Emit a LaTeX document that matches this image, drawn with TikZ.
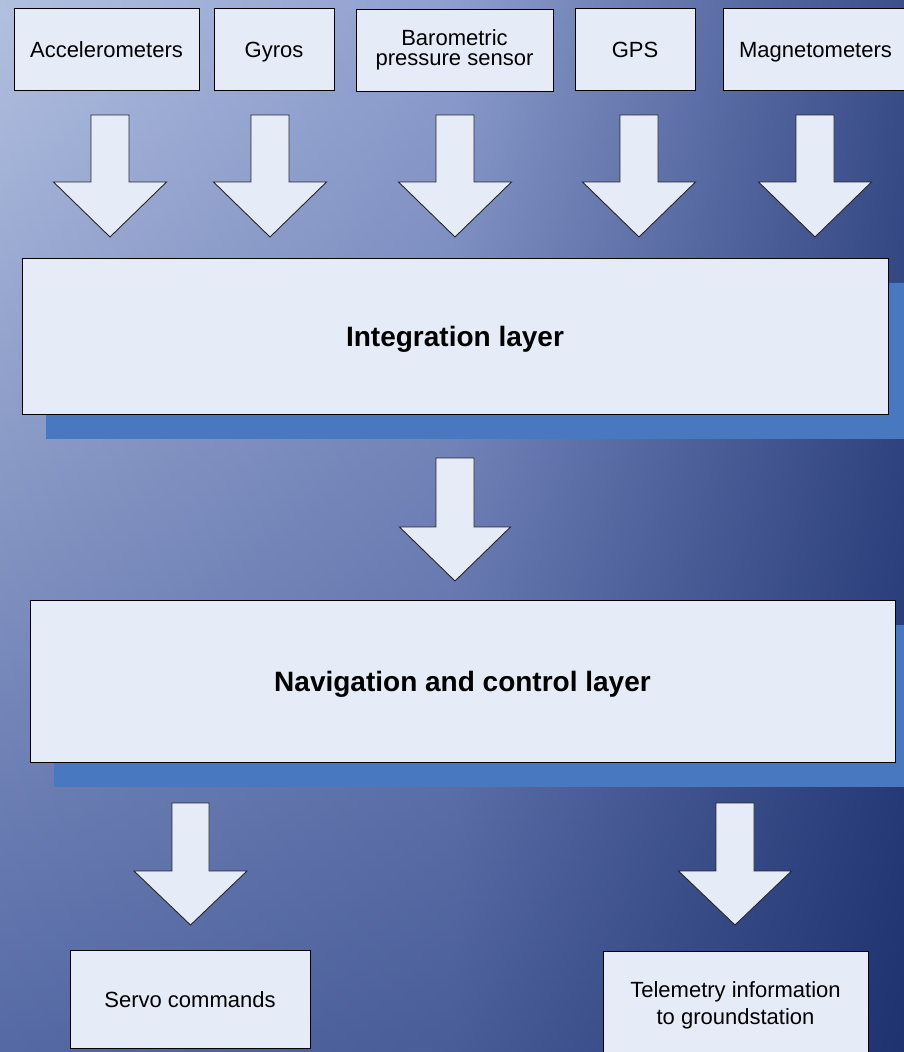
\documentclass[tikz,border=0pt]{standalone}
\usepackage{fontspec}
\setmainfont{Liberation Sans}
\definecolor{bgTL}{RGB}{178,192,224}
\definecolor{bgTM}{RGB}{142,158,206}
\definecolor{bgTR}{RGB}{58,78,138}
\definecolor{bgBL}{RGB}{84,104,164}
\definecolor{bgBM}{RGB}{72,92,152}
\definecolor{bgBR}{RGB}{30,50,112}
\definecolor{boxfill}{RGB}{230,236,247}
\definecolor{shadowblue}{RGB}{72,121,192}
\tikzset{
  box/.style={draw=black, line width=1pt, fill=boxfill, inner sep=0pt, align=center,
    font=\fontsize{22}{20}\selectfont},
  oneline/.style={text height=16pt, text depth=0pt},
  layerbox/.style={box, font=\fontsize{28}{30}\selectfont\bfseries, text height=20pt, text depth=0pt},
  blk/.style={draw=black!85, line width=0.9pt, fill=boxfill, line join=miter},
  shadowbox/.style={fill=shadowblue, draw=none, inner sep=0pt}
}
\newcommand\blkarrow[6]{%
  \filldraw[blk] (#1-#5,#2) -- (#1+#5,#2) -- (#1+#5,#3) -- (#1+#6,#3) -- (#1,#4)
    -- (#1-#6,#3) -- (#1-#5,#3) -- cycle;}
\begin{document}
\begin{tikzpicture}[x=1pt,y=-1pt]
\useasboundingbox (0,0) rectangle (904,1052);
\clip (0,0) rectangle (904,1052);
% background: stacked strips approximating a bilinear gradient
\foreach \i in {0,...,105} {
  \pgfmathsetmacro\p{100*(\i+0.5)/106}
  \colorlet{cL}{bgBL!\p!bgTL}
  \colorlet{cM}{bgBM!\p!bgTM}
  \colorlet{cR}{bgBR!\p!bgTR}
  \fill[left color=cL, right color=cR, middle color=cM] (0,\i*10) rectangle (904,\i*10+10.6);
}

% sensor boxes
\node[box, oneline, minimum width=185pt, minimum height=82pt] (acc) at (106.5,49) {Accelerometers};
\node[box, oneline, minimum width=120pt, minimum height=82pt] (gyr) at (274,49) {Gyros};
\node[box, minimum width=197pt, minimum height=82pt] (baro) at (454.5,50) {Barometric\\pressure sensor};
\node[box, oneline, minimum width=120pt, minimum height=82pt] (gps) at (635,49) {GPS};
\node[box, oneline, minimum width=185pt, minimum height=82pt] (mag) at (815.5,49) {Magnetometers};

% top arrows
\blkarrow{110}{115}{182}{237}{19}{56.5}
\blkarrow{270}{115}{182}{237}{19}{56.5}
\blkarrow{455}{115}{182}{237}{19}{56.5}
\blkarrow{639}{115}{182}{237}{19}{56.5}
\blkarrow{815}{115}{182}{237}{19}{56.5}

% integration layer
\node[shadowbox, minimum width=866pt, minimum height=156pt] (intsh) at (479,361) {};
\node[layerbox, minimum width=866pt, minimum height=156pt] (integ) at (455,336) {Integration layer};

% middle arrow
\blkarrow{455}{458}{527}{581}{19}{55.5}

% navigation layer
\node[shadowbox, minimum width=865pt, minimum height=162pt] (navsh) at (486.5,706) {};
\node[layerbox, minimum width=865pt, minimum height=162pt] (nav) at (462.5,681) {Navigation and control layer};

% bottom arrows
\blkarrow{190.5}{803}{871}{925}{18.5}{56.5}
\blkarrow{735}{803}{871}{925}{19}{56.5}

% outputs
\node[box, oneline, minimum width=240pt, minimum height=98pt] (servo) at (190,999) {Servo commands};
\node[box, minimum width=265pt, minimum height=108pt, font=\fontsize{22}{27}\selectfont] (tele) at (735.5,1005) {Telemetry information\\to groundstation};
\end{tikzpicture}
\end{document}
